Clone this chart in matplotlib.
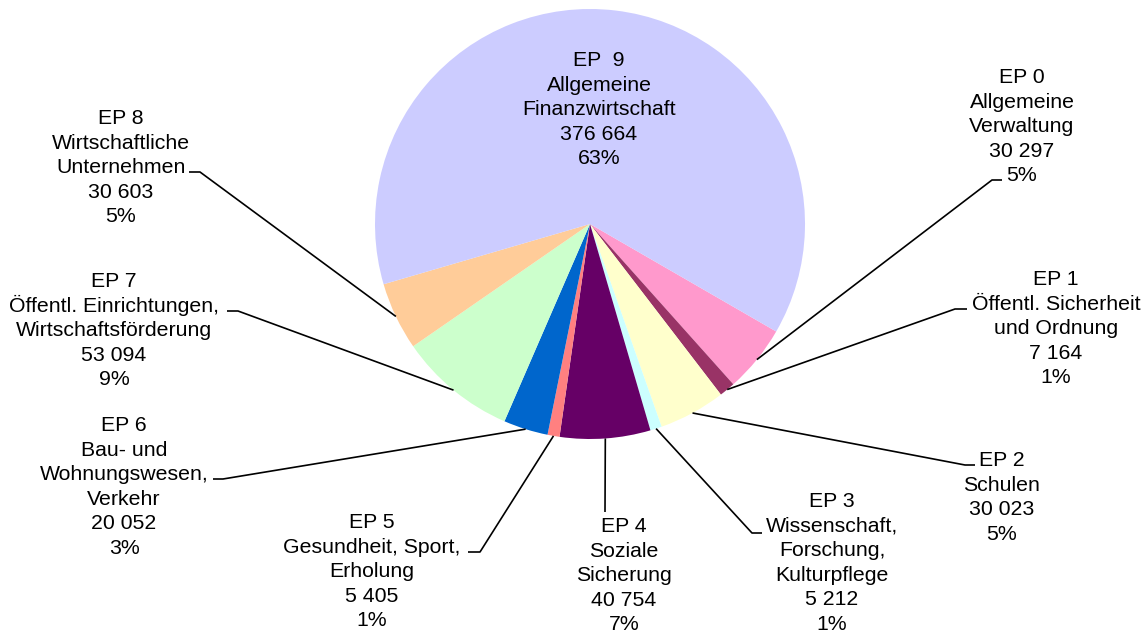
import matplotlib
matplotlib.use("Agg")
import matplotlib.pyplot as plt
import numpy as np

# ---- data ----
codes = ["EP 0", "EP 1", "EP 2", "EP 3", "EP 4", "EP 5", "EP 6", "EP 7", "EP 8", "EP  9"]
names = [
    "Allgemeine\nVerwaltung",
    "Öffentl. Sicherheit\nund Ordnung",
    "Schulen",
    "Wissenschaft,\nForschung,\nKulturpflege",
    "Soziale\nSicherung",
    "Gesundheit, Sport,\nErholung",
    "Bau- und\nWohnungswesen,\nVerkehr",
    "Öffentl. Einrichtungen,\nWirtschaftsförderung",
    "Wirtschaftliche\nUnternehmen",
    "Allgemeine\nFinanzwirtschaft",
]
values = [30297, 7164, 30023, 5212, 40754, 5405, 20052, 53094, 30603, 376664]
colors = ["#FF99CC", "#993366", "#FFFFCC", "#CCFFFF", "#660066",
          "#FF8080", "#0066CC", "#CCFFCC", "#FFCC99", "#CCCCFF"]

# ---- layout (pixels from top-left) ----
W, H = 1147, 634
cx, cy, R = 590, 224, 215
label_x = [1022, 1056, 1002, 832, 624, 372, 124, 114, 121, 599]
label_y0 = [83, 285, 466, 507, 532, 528, 431, 287, 124, 66]
line_h = 24.6
elbow = [(992, 180), (955, 309), (965, 465), (752, 533), (605, 512),
         (480, 552), (223, 479), (238, 311), (200, 172), None]
end_x = [1002, 967, 975, 762, 605, 468, 213, 227, 189, None]

plt.rcParams['font.family'] = ['Liberation Sans', 'DejaVu Sans']

fig = plt.figure(figsize=(W / 100, H / 100), dpi=100)
ax = fig.add_axes([0, 0, 1, 1])

wedges, _ = ax.pie(values, colors=colors, startangle=-30, counterclock=False,
                   center=(cx, H - cy), radius=R, frame=True,
                   wedgeprops=dict(linewidth=0))
ax.set_xlim(0, W)
ax.set_ylim(0, H)
ax.set_aspect('equal')
ax.axis('off')

total = sum(values)
for i, (code, name, v) in enumerate(zip(codes, names, values)):
    pct = round(v / total * 100)
    lines = [code] + name.split("\n") + [f"{v:,}".replace(",", " "), f"{pct}%"]
    for k, t in enumerate(lines):
        ax.text(label_x[i], H - (label_y0[i] + k * line_h), t, ha='center',
                va='baseline', fontsize=15.3, color='black')
    if elbow[i] is not None:
        w = wedges[i]
        mid = np.deg2rad((w.theta1 + w.theta2) / 2)
        sx = cx + R * np.cos(mid)
        sy = (H - cy) + R * np.sin(mid)
        ex, ey = elbow[i]
        ax.plot([sx, ex, end_x[i]], [sy, H - ey, H - ey], color='black',
                lw=1.2, solid_capstyle='butt')

fig.savefig("out.png", dpi=100)
